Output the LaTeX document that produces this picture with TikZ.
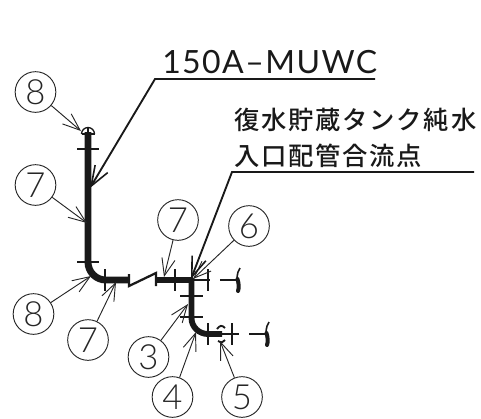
\documentclass[tikz,border=0pt]{standalone}
\usepackage{fontspec}
\setmainfont{Lato Light}
\newfontfamily\cjk[LetterSpace=7]{Noto Sans CJK JP Medium}
\newfontfamily\lat[LetterSpace=4.5]{Lato}
\usetikzlibrary{arrows.meta}
\tikzset{
  x=0.75pt,y=-0.75pt,
  bubble/.style={draw=black!85,line width=0.7pt,circle,minimum size=30.5pt,inner sep=0pt,font=\fontsize{26}{26}\selectfont\color{black!85}},
  lead/.style={draw=black!85,line width=0.7pt,-{Straight Barb[length=13pt,width=10pt,line width=0.7pt]}},
  bigarrow/.style={draw=black!90,line width=1.4pt,-{Straight Barb[length=15pt,width=11pt,line width=1.2pt]}},
  pipe/.style={draw=black!90,line width=5.2pt},
  pipeb/.style={draw=black!90,line width=4.4pt},
  tick/.style={draw=black!90,line width=1.5pt},
  thin/.style={draw=black!90,line width=1pt},
  label/.style={inner sep=0pt,anchor=base west,text=black!90},
}
\begin{document}
\begin{tikzpicture}
\useasboundingbox (0,0) rectangle (481,418);
% bubbles
\node[bubble] (b8a) at (35.5,92) {8};
\node[bubble] (b7a) at (35.5,185) {7};
\node[bubble] (b7b) at (178,220) {7};
\node[bubble] (b6)  at (249,226) {6};
\node[bubble] (b8b) at (33.5,314) {8};
\node[bubble] (b7c) at (88,340) {7};
\node[bubble] (b3)  at (148.5,357) {3};
\node[bubble] (b4)  at (172.5,397) {4};
\node[bubble] (b5)  at (242,397) {5};
% targets
\coordinate (t8a) at (81,131);
\coordinate (t7a) at (87,223);
\coordinate (t7b) at (164,277);
\coordinate (t6)  at (193,279);
\coordinate (t8b) at (91,276);
\coordinate (t7c) at (116,282);
\coordinate (t3)  at (188,304);
\coordinate (t4)  at (196,332);
\coordinate (t5)  at (220,341);
% pipes
\draw[pipe] (88,132) -- (88,262) .. controls (88,272) and (96,280) .. (106,280) -- (129,280);
\draw[pipe] (156,280) -- (193,280);
\draw[pipeb] (191.5,278) -- (191.5,318) .. controls (191.5,327) and (199,334) .. (208,334) -- (222,334);
% ticks
\draw[tick] (77,149) -- (99,149);
\draw[tick] (77,262) -- (99,262);
\draw[tick] (105,269) -- (105,291);
\draw[tick] (175,269) -- (175,291);
\draw[tick] (208,269) -- (208,291);
\draw[tick] (180,296) -- (203,296);
\draw[tick] (180,317) -- (203,317);
\draw[tick] (208,323) -- (208,345);
\draw[tick] (232,323) -- (232,345);
\draw[tick] (192,280) -- (210,280);
\draw[tick] (222,334) -- (239,334);
% break
\draw[tick,line width=1.7pt] (129,274) -- (129,286) -- (156,273) -- (156,286);
% open ends
\draw[thin,line width=1.8pt] (220,280) -- (238,280);
\draw[thin,line width=1.2pt] (240,268) .. controls (236,274) and (237,280) .. (238,284);
\draw[thin,line width=3pt,line cap=round] (237.5,279) .. controls (239,284) and (239,288) .. (238,291);
\draw[thin,line width=1.8pt] (249,334) -- (266,334);
\draw[thin,line width=1.2pt] (269,322) .. controls (265,328) and (266,334) .. (267,338);
\draw[thin,line width=3pt,line cap=round] (266.5,333) .. controls (268,338) and (268,342) .. (267,345);
% end caps
\draw[thin] (81.5,134) arc[start angle=180,end angle=360,radius=6.5];
\draw[thin] (81.5,134) -- (94.5,134) (88,127.5) -- (88,134);
\draw[thin,line width=1.4pt] (217,329) .. controls (220,325) and (222,325) .. (225,328);
\draw[thin,line width=1.4pt] (218,341) .. controls (220,343) and (222,343) .. (225,340);
% leaders
\draw[lead] (b8a) -- (t8a);
\draw[lead] (b7a) -- (t7a);
\draw[lead] (b7b) -- (t7b);
\draw[lead] (b6) -- (t6);
\draw[lead] (b8b) -- (t8b);
\draw[lead] (b7c) -- (t7c);
\draw[lead] (b3) -- (t3);
\draw[lead] (b4) -- (t4);
\draw[lead] (b5) -- (t5);
% labelled leaders
\coordinate (k1) at (155,79);
\coordinate (e1) at (375,79);
\coordinate (a1) at (90,188);
\draw[bigarrow] (e1) -- (k1) -- (a1);
\coordinate (k2) at (232,172);
\coordinate (e2) at (474,172);
\coordinate (a2) at (191,279);
\draw[bigarrow] (e2) -- (k2) -- (a2);
% text
\node[label,font=\lat\fontsize{24}{24}\selectfont] (t1) at (162,73) {150A–MUWC};
\node[label,font=\cjk\fontsize{19}{19}\selectfont] (t2) at (234,129) {復水貯蔵タンク純水};
\node[label,font=\cjk\fontsize{19}{19}\selectfont] (t3l) at (234,165) {入口配管合流点};
\end{tikzpicture}
\end{document}
